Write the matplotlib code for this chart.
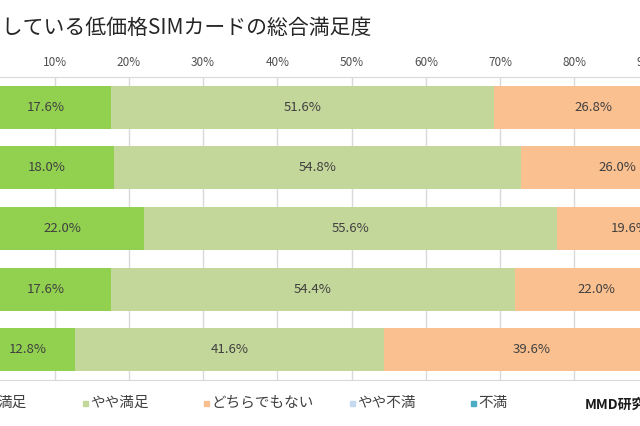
import matplotlib.pyplot as plt
from matplotlib.patches import Rectangle

plt.rcParams['font.family'] = ['Noto Sans CJK JP', 'DejaVu Sans']

# データ（%）
categories = ['楽天モバイル', 'mineo', 'IIJmio', 'OCN モバイル ONE', 'DMM mobile']
series = ['満足', 'やや満足', 'どちらでもない', 'やや不満', '不満']
manzoku = [17.6, 18.0, 22.0, 17.6, 12.8]
yaya_manzoku = [51.6, 54.8, 55.6, 54.4, 41.6]
dochira = [26.8, 26.0, 19.6, 22.0, 39.6]
yaya_fuman = [3.2, 0.8, 2.4, 4.8, 4.8]
fuman = [0.8, 0.4, 0.4, 1.2, 1.2]
colors = ['#92D050', '#C4D79B', '#FAC090', '#C5D9F1', '#4BACC6']

values = [manzoku, yaya_manzoku, dochira, yaya_fuman, fuman]

fig = plt.figure(figsize=(6.4, 4.26), dpi=100)
# 元画像は左右が切れているので、軸を図の外まではみ出させる
ax = fig.add_axes([-0.0309, 0.108, 1.1606, 0.7113])

ypos = list(range(len(categories)))
left = [0.0] * len(categories)
for name, vals, c in zip(series, values, colors):
    ax.barh(ypos, vals, left=left, height=0.71, color=c, label=name, zorder=2)
    for y, v, l in zip(ypos, vals, left):
        if v >= 5:
            ax.text(l + v / 2, y, f'{v:.1f}%', ha='center', va='center',
                    fontsize=9.5, color='#404040', zorder=3)
    left = [l + v for l, v in zip(left, vals)]

ax.set_xlim(0, 100)
ax.set_ylim(len(categories) - 0.5, -0.5)
ax.set_xticks(range(0, 101, 10))
ax.set_xticklabels([f'{t}%' for t in range(0, 101, 10)], fontsize=8.5, color='#505050')
ax.xaxis.tick_top()
ax.tick_params(axis='x', length=0, pad=6)
ax.set_yticks(ypos)
ax.set_yticklabels(categories)
ax.tick_params(axis='y', length=0)
ax.grid(axis='x', color='#D9D9D9', linewidth=1, zorder=0)
for s in ['left', 'right']:
    ax.spines[s].set_visible(False)
for s in ['top', 'bottom']:
    ax.spines[s].set_color('#D9D9D9')

fig.text(372 / 640, 1 - 28 / 426, '利用している低価格SIMカードの総合満足度',
         ha='right', va='center', fontsize=15, color='#262626')

# 凡例（手置き）
marker_x = [-10, 83, 204, 350, 471]
for name, c, mx in zip(series, colors, marker_x):
    fig.add_artist(Rectangle((mx / 640, 1 - 406 / 426), 5 / 640, 5 / 426,
                             transform=fig.transFigure, color=c))
    fig.text((mx + 7) / 640, 1 - 403 / 426, name, ha='left', va='center',
             fontsize=10.5, color='#404040')

fig.text(585 / 640, 1 - 405 / 426, 'MMD研究所', ha='left', va='center',
         fontsize=10, fontweight='bold', color='#1a1a1a')

fig.savefig('out.png', dpi=100)
